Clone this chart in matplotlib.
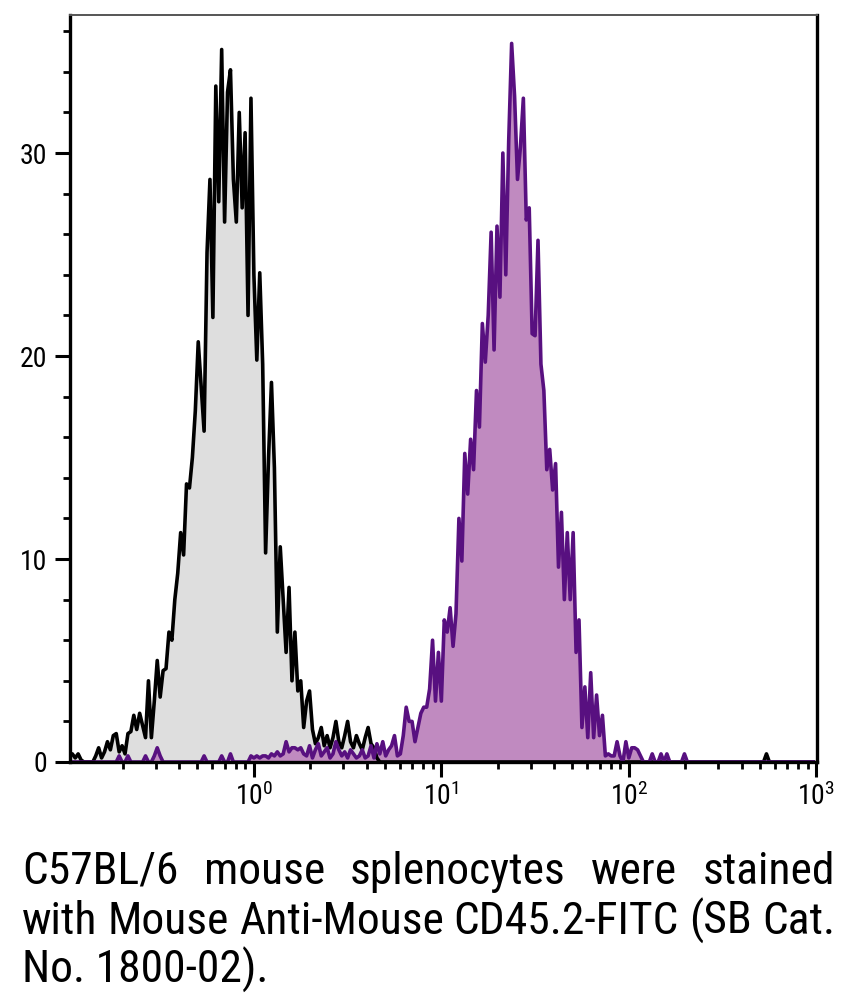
import matplotlib
matplotlib.use("Agg")
import matplotlib.pyplot as plt
from matplotlib import font_manager
from matplotlib.ticker import FixedLocator, MultipleLocator, NullFormatter
import numpy as np

# histogram channels: 64 per decade starting at 10^-1
CHANNELS_PER_DECADE = 64
N_CHANNELS = 256

# unstained control (grey), counts per channel
control_counts = (
    [0.8, 0.3, 0.4, 0.2, 0.4, 0.1]
    + [0.0, 0.0, 0.0, 0.0]
    + [0.3, 0.7, 0.2, 0.5]
    + [1.0, 0.6, 1.3, 1.4, 0.5, 0.8, 0.4]
    + [1.4, 1.5, 2.3, 1.6, 2.4, 1.8, 1.2, 4.0, 1.2]
    + [3.0, 5.0, 3.2, 4.5, 4.6, 6.4, 6.0, 8.0, 9.3, 11.3]
    + [10.2, 13.7, 13.5, 15.0, 17.3, 20.7, 18.5, 16.3, 25.1, 28.7]
    + [21.9, 33.3, 27.6, 35.1, 26.6, 33.0, 34.1, 28.7, 26.6, 32.0]
    + [27.3, 31.0, 22.0, 32.7, 24.0, 19.8, 24.1, 19.6, 10.3, 15.0]
    + [18.7, 14.5, 6.4, 10.6, 8.0, 5.4, 8.6, 4.0, 6.4, 3.5]
    + [4.0, 1.7, 3.0, 3.5, 1.6, 0.9, 1.2, 1.7, 0.8, 1.3]
    + [0.7, 1.2, 2.0, 1.0, 0.7, 1.3, 2.0, 1.0, 0.7, 1.3]
    + [0.9, 0.6, 1.2, 1.7, 0.9, 0.7, 0.2]
    + [0.0] * 132
    + [0.4]
    + [0.0] * 16
)

# CD45.2-FITC stained (purple), counts per channel
stained_counts = (
    [0.0] * 18
    + [0.3, 0.0, 0.0, 0.3]
    + [0.0] * 5
    + [0.3, 0.0, 0.0, 0.3, 0.7, 0.3]
    + [0.0] * 14
    + [0.3]
    + [0.0] * 5
    + [0.3, 0.0, 0.0, 0.4]
    + [0.0] * 6
    + [0.3, 0.2, 0.3, 0.2, 0.3, 0.3, 0.2]
    + [0.4, 0.3, 0.5, 0.3, 0.4, 1.0, 0.5, 0.7, 0.7, 0.6]
    + [0.7, 0.4, 0.3, 0.8, 0.2, 0.6, 0.9, 0.3, 0.5, 0.7]
    + [0.2, 0.4, 1.0, 0.6, 0.3, 0.5, 0.2, 0.6, 0.4, 0.2]
    + [0.3, 0.6, 0.2, 0.3, 0.8, 0.2, 0.9, 0.4, 1.0, 0.3]
    + [0.6, 0.8, 1.3, 0.3, 0.4, 1.3, 2.7, 2.0, 2.0, 1.0]
    + [1.7, 2.4, 2.7, 2.7, 3.6, 6.0, 3.0, 5.4, 3.0, 7.0]
    + [6.4, 7.6, 5.7, 7.3, 12.0, 9.9, 15.2, 13.2, 15.9, 14.4]
    + [18.3, 16.5, 21.6, 19.7, 22.0, 26.1, 20.3, 26.4, 22.9, 30.0]
    + [24.0, 30.6, 35.4, 32.8, 28.7, 30.3, 32.7, 26.7, 27.3, 21.1]
    + [21.0, 25.7, 19.6, 18.3, 14.4, 15.4, 13.4, 14.7, 9.6, 12.3]
    + [8.0, 11.3, 8.0, 11.3, 5.4, 7.0, 1.7, 3.7, 1.2, 4.4]
    + [1.2, 3.3, 1.3, 2.3, 0.3, 0.4, 0.3, 0.3, 1.0, 0.3]
    + [0.0, 1.0, 0.2, 0.7, 0.7, 0.6, 0.3, 0.0, 0.0, 0.0]
    + [0.4, 0.0, 0.0, 0.4, 0.0, 0.4, 0.0, 0.0, 0.0, 0.0, 0.0, 0.4]
    + [0.0] * 44
)

x_major = [1, 10, 100, 1000]
x_major_labels = ["0", "1", "2", "3"]
y_major = [0, 10, 20, 30]

caption_lines = [
    "C57BL/6 mouse splenocytes were stained",
    "with Mouse Anti-Mouse CD45.2-FITC (SB Cat.",
    "No. 1800-02).",
]


def pick_font(candidates):
    names = {f.name for f in font_manager.fontManager.ttflist}
    for c in candidates:
        if c in names:
            return c
    return "DejaVu Sans"


font = pick_font(["Roboto Condensed", "Liberation Sans Narrow", "Lato", "Roboto", "Open Sans"])
plt.rcParams["font.family"] = [font, "DejaVu Sans"]
plt.rcParams["mathtext.fontset"] = "custom"
plt.rcParams["mathtext.rm"] = font

assert len(control_counts) == N_CHANNELS and len(stained_counts) == N_CHANNELS
channel = 10 ** (-1 + np.arange(N_CHANNELS) / CHANNELS_PER_DECADE)

W, H = 846, 993
fig = plt.figure(figsize=(W / 100, H / 100), dpi=100)
ax = fig.add_axes([70 / W, 1 - 762 / H, 747 / W, 747 / H])

ax.fill_between(channel, control_counts, 0, color="#dedede", lw=0, zorder=1)
ax.plot(channel, control_counts, color="black", lw=2.6, zorder=2)
ax.fill_between(channel, stained_counts, 0, color="#c08ac0", lw=0, zorder=1.5)
ax.plot(channel, stained_counts, color="#581080", lw=2.6, zorder=2)

ax.set_xscale("log")
ax.set_xlim(10 ** -0.981, 10 ** 3.004)
ax.set_ylim(0, 36.8)

ax.xaxis.set_major_locator(FixedLocator(x_major))
ax.set_xticklabels([r"$\mathregular{10^{%s}}$" % e for e in x_major_labels])
minor_x = [m * 10.0 ** d for d in range(-1, 3) for m in range(2, 10)]
ax.xaxis.set_minor_locator(FixedLocator(minor_x))
ax.xaxis.set_minor_formatter(NullFormatter())

ax.yaxis.set_major_locator(FixedLocator(y_major))
ax.yaxis.set_minor_locator(MultipleLocator(2))

ax.tick_params(axis="both", which="major", direction="out", length=10.5, width=2.2,
               labelsize=20, pad=6)
ax.tick_params(axis="both", which="minor", direction="out", length=5, width=2.0)
ax.tick_params(axis="x", which="major", pad=4)

for side in ["left", "bottom", "right"]:
    ax.spines[side].set_linewidth(2.4)
    ax.spines[side].set_color("black")
ax.spines["top"].set_linewidth(1.4)
ax.spines["top"].set_color("#555555")

# justified caption below the plot
renderer = fig.canvas.get_renderer()
probe = fig.text(0, 0, caption_lines[1], fontsize=30)
natural = probe.get_window_extent(renderer).width
probe.remove()
cap_size = 30 * (835 - 22) / natural

baselines = [884, 934, 983]
for i, line in enumerate(caption_lines):
    yb = 1 - baselines[i] / H
    words = line.split(" ")
    if i == len(caption_lines) - 1:
        fig.text(22 / W, yb, line, fontsize=cap_size, va="baseline", ha="left")
        continue
    items = [fig.text(0, yb, w, fontsize=cap_size, va="baseline") for w in words]
    widths = [t.get_window_extent(renderer).width for t in items]
    gap = ((835 - 22) - sum(widths)) / (len(words) - 1)
    x = 22.0
    for t, w in zip(items, widths):
        t.set_x(x / W)
        x += w + gap

fig.savefig("out.png", dpi=100)
